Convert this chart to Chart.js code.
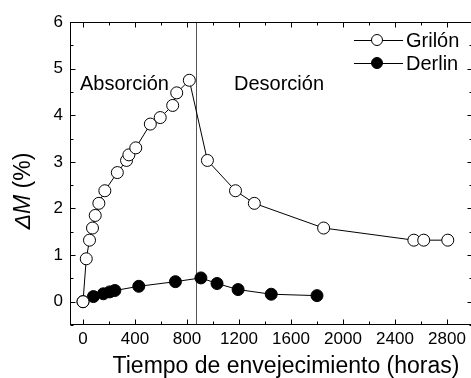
<!DOCTYPE html>
<html><head><meta charset="utf-8">
<script src="https://cdn.jsdelivr.net/npm/chart.js@4/dist/chart.umd.min.js"></script>
<style>
html,body{margin:0;padding:0;background:#fff;overflow:hidden;width:471px;height:378px}
#wrap{position:relative;width:480px;height:378px}
</style></head>
<body><div id="wrap"><canvas id="c" width="480" height="378"></canvas></div>
<script>
// ---- data ----
const grilonX = [0, 25, 50, 73, 94, 122, 168, 264, 335, 353, 406, 518, 594, 690, 721, 818, 957, 1173, 1318, 1851, 2545, 2621, 2806];
const grilonY = [0, 0.92, 1.32, 1.58, 1.85, 2.11, 2.38, 2.77, 3.03, 3.15, 3.30, 3.81, 3.95, 4.21, 4.48, 4.75, 3.03, 2.38, 2.11, 1.58, 1.32, 1.32, 1.32];
const derlinX = [0, 80, 157, 205, 245, 429, 711, 907, 1031, 1193, 1448, 1800];
const derlinY = [0, 0.11, 0.17, 0.21, 0.24, 0.33, 0.43, 0.51, 0.39, 0.26, 0.16, 0.13];
const seriesNames = ['Grilón', 'Derlin'];
const xTicks = [0, 400, 800, 1200, 1600, 2000, 2400, 2800];
const yTicks = [0, 1, 2, 3, 4, 5, 6];
const phaseLabels = ['Absorción', 'Desorción'];
const phaseBoundary = 870;
const xTitle = 'Tiempo de envejecimiento (horas)';
const yTitleItalic = 'ΔM';
const yTitleRest = ' (%)';

const FONT = '"Liberation Sans", Arial, sans-serif';

const toPts = (xs, ys) => xs.map((x, i) => ({x: x, y: ys[i]}));

const decor = {
  id: 'decor',
  beforeDatasetsDraw(chart) {
    const {ctx, chartArea: a, scales: {x}} = chart;
    const px = Math.round(x.getPixelForValue(phaseBoundary)) + 0.5;
    ctx.save();
    ctx.strokeStyle = '#555';
    ctx.lineWidth = 1;
    ctx.beginPath();
    ctx.moveTo(px, a.top);
    ctx.lineTo(px, a.bottom);
    ctx.stroke();
    ctx.restore();
  },
  afterDraw(chart) {
    const {ctx, chartArea: a, scales: {x, y}} = chart;
    ctx.save();
    // frame
    ctx.strokeStyle = '#000';
    ctx.lineWidth = 1;
    const L = Math.round(a.left) + 0.5, R = Math.round(a.right) - 0.5;
    const T = Math.round(a.top) + 0.5, B = Math.round(a.bottom) - 0.5;
    ctx.strokeRect(L, T, R - L, B - T);
    // ticks
    ctx.beginPath();
    for (let v = 0; v <= 3000; v += 200) {
      const p = Math.round(x.getPixelForValue(v)) + 0.5;
      const len = (v % 400 === 0) ? 5 : 3;
      ctx.moveTo(p, B); ctx.lineTo(p, B - len);
      ctx.moveTo(p, T); ctx.lineTo(p, T + len);
    }
    for (let v = -0.5; v <= 6; v += 0.5) {
      const p = Math.round(y.getPixelForValue(v)) + 0.5;
      const len = (Math.abs(v % 1) < 1e-9) ? 5 : 3;
      ctx.moveTo(L, p); ctx.lineTo(L + len, p);
      ctx.moveTo(R, p); ctx.lineTo(R - len, p);
    }
    ctx.stroke();

    // phase labels
    ctx.fillStyle = '#000';
    ctx.font = '20px ' + FONT;
    ctx.textBaseline = 'alphabetic';
    ctx.textAlign = 'left';
    ctx.fillText(phaseLabels[0], 80, 90);
    ctx.fillText(phaseLabels[1], 234, 90);

    // legend
    const legY = [40, 63];
    const fills = ['#fff', '#000'];
    for (let i = 0; i < 2; i++) {
      ctx.beginPath();
      ctx.moveTo(354, legY[i] + 0.5); ctx.lineTo(403, legY[i] + 0.5);
      ctx.stroke();
      ctx.beginPath();
      ctx.arc(377, legY[i], 5.5, 0, Math.PI * 2);
      ctx.fillStyle = fills[i];
      ctx.fill();
      ctx.stroke();
      ctx.fillStyle = '#000';
      ctx.textBaseline = 'middle';
      ctx.fillText(seriesNames[i], 406, legY[i] + 1);
    }

    // x title
    ctx.font = '23px ' + FONT;
    ctx.textAlign = 'center';
    ctx.textBaseline = 'alphabetic';
    ctx.fillText(xTitle, 286, 373);

    // y title
    ctx.translate(30, 191);
    ctx.rotate(-Math.PI / 2);
    ctx.font = 'italic 23px ' + FONT;
    const w1 = ctx.measureText(yTitleItalic).width;
    ctx.font = '23px ' + FONT;
    const w2 = ctx.measureText(yTitleRest).width;
    const start = -(w1 + w2) / 2;
    ctx.textAlign = 'left';
    ctx.font = 'italic 23px ' + FONT;
    ctx.fillText(yTitleItalic, start, 0);
    ctx.font = '23px ' + FONT;
    ctx.fillText(yTitleRest, start + w1, 0);
    ctx.restore();
  }
};

new Chart(document.getElementById('c'), {
  type: 'line',
  data: {
    datasets: [
      {
        label: seriesNames[0],
        data: toPts(grilonX, grilonY),
        borderColor: '#000', borderWidth: 1,
        pointRadius: 6, pointBackgroundColor: '#fff', pointBorderColor: '#000', pointBorderWidth: 1,
        tension: 0, fill: false
      },
      {
        label: seriesNames[1],
        data: toPts(derlinX, derlinY),
        borderColor: '#000', borderWidth: 1,
        pointRadius: 6, pointBackgroundColor: '#000', pointBorderColor: '#000', pointBorderWidth: 1,
        tension: 0, fill: false
      }
    ]
  },
  options: {
    responsive: false,
    animation: false,
    devicePixelRatio: 1,
    layout: {padding: {top: 22, right: 4, left: 0, bottom: 0}},
    plugins: {legend: {display: false}, tooltip: {enabled: false}},
    scales: {
      x: {
        type: 'linear', min: -100, max: 3000,
        afterBuildTicks: s => { s.ticks = xTicks.map(v => ({value: v})); },
        afterFit: s => { s.height = 53; },
        grid: {display: false, drawTicks: false},
        border: {display: false},
        ticks: {color: '#000', font: {family: FONT, size: 17}, padding: 4, maxRotation: 0, autoSkip: false,
                callback: v => String(v)}
      },
      y: {
        type: 'linear', min: -0.5, max: 6,
        afterBuildTicks: s => { s.ticks = yTicks.map(v => ({value: v})); },
        afterFit: s => { s.width = 70; },
        grid: {display: false, drawTicks: false},
        border: {display: false},
        ticks: {color: '#000', font: {family: FONT, size: 17}, padding: 7, callback: v => String(v)}
      }
    }
  },
  plugins: [decor]
});
</script>
</body></html>
